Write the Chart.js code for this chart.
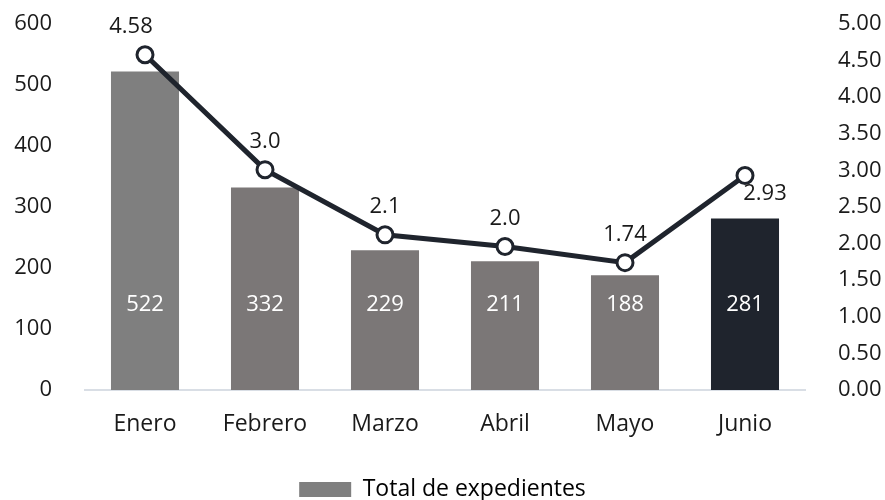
<!DOCTYPE html>
<html>
<head>
<meta charset="utf-8">
<script src="https://cdn.jsdelivr.net/npm/chart.js@4"></script>
<style>
  html, body { margin: 0; padding: 0; background: #fff; }
  #wrap { width: 885px; height: 500px; }
</style>
</head>
<body>
<div id="wrap"><canvas id="chart"></canvas></div>
<script>
// datos del gráfico
const meses = ['Enero', 'Febrero', 'Marzo', 'Abril', 'Mayo', 'Junio'];
const totalExpedientes = [522, 332, 229, 211, 188, 281];
const promedio = [4.58, 3.01, 2.12, 1.96, 1.74, 2.93];
const promedioEtiquetas = ['4.58', '3.0', '2.1', '2.0', '1.74', '2.93'];
const ticksIzq = [0, 100, 200, 300, 400, 500, 600];
const ticksDer = ['0.00', '0.50', '1.00', '1.50', '2.00', '2.50', '3.00', '3.50', '4.00', '4.50', '5.00'];

const fuente = "'Open Sans', Lato, sans-serif";
const colorTexto = '#1a1a1a';
const coloresBarras = ['#7f7f7f', '#7b7777', '#7b7777', '#7b7777', '#7b7777', '#1f242d'];

// etiquetas de valores (barras en blanco, línea encima de cada punto)
const etiquetas = {
    id: 'etiquetas',
    afterDatasetsDraw(chart) {
        const ctx = chart.ctx;
        ctx.save();
        ctx.font = '22px ' + fuente;
        ctx.textAlign = 'center';
        ctx.textBaseline = 'middle';

        const barras = chart.getDatasetMeta(0);
        barras.data.forEach(function (bar, i) {
            ctx.fillStyle = '#ffffff';
            ctx.fillText(String(totalExpedientes[i]), bar.x, bar.base - 85);
        });

        const linea = chart.getDatasetMeta(1);
        linea.data.forEach(function (pt, i) {
            ctx.fillStyle = colorTexto;
            if (i === linea.data.length - 1) {
                ctx.fillText(promedioEtiquetas[i], pt.x + 20, pt.y + 18);
            } else {
                ctx.fillText(promedioEtiquetas[i], pt.x - (i === 0 ? 14 : 0), pt.y - 28);
            }
        });
        ctx.restore();
    }
};

// bajar un poco la leyenda
const bajarLeyenda = {
    id: 'bajarLeyenda',
    afterLayout(chart) {
        if (chart.legend) {
            chart.legend.top += 11;
            chart.legend.bottom += 11;
        }
    }
};

const ctx = document.getElementById('chart').getContext('2d');
new Chart(ctx, {
    type: 'bar',
    data: {
        labels: meses,
        datasets: [{
            type: 'bar',
            label: 'Total de expedientes',
            data: totalExpedientes,
            backgroundColor: coloresBarras,
            yAxisID: 'y',
            barPercentage: 0.567,
            categoryPercentage: 1,
            order: 1
        }, {
            type: 'line',
            label: 'Promedio',
            data: promedio,
            borderColor: '#1f242d',
            borderWidth: 5,
            pointRadius: 8,
            pointBorderWidth: 3,
            pointBackgroundColor: '#ffffff',
            pointBorderColor: '#1f242d',
            yAxisID: 'y1',
            order: 0
        }]
    },
    options: {
        responsive: true,
        maintainAspectRatio: false,
        animation: false,
        layout: { padding: { top: 24, bottom: 0 } },
        scales: {
            x: {
                grid: { display: false },
                border: { color: '#d9dee5', width: 2 },
                ticks: { color: colorTexto, font: { family: fuente, size: 23 }, padding: 13 },
                afterFit: function (axis) { axis.height = 73; }
            },
            y: {
                position: 'left',
                min: 0,
                max: 600,
                afterBuildTicks: function (axis) { axis.ticks = ticksIzq.map(v => ({ value: v })); },
                grid: { display: false },
                border: { display: false },
                ticks: { color: colorTexto, font: { family: fuente, size: 22 }, padding: 25 },
                afterFit: function (axis) { axis.width = 85; axis.paddingTop = 0; axis.paddingBottom = 0; }
            },
            y1: {
                position: 'right',
                min: 0,
                max: 5,
                afterBuildTicks: function (axis) { axis.ticks = ticksDer.map(v => ({ value: parseFloat(v) })); },
                grid: { display: false },
                border: { display: false },
                ticks: {
                    color: colorTexto,
                    font: { family: fuente, size: 22 },
                    padding: 25,
                    callback: function (v) { return Number(v).toFixed(2); }
                },
                afterFit: function (axis) { axis.width = 80; axis.paddingTop = 0; axis.paddingBottom = 0; }
            }
        },
        plugins: {
            legend: {
                position: 'bottom',
                labels: {
                    color: colorTexto,
                    font: { family: fuente, size: 23 },
                    boxWidth: 52,
                    boxHeight: 15,
                    padding: 4,
                    generateLabels: function (chart) {
                        return [{
                            text: 'Total de expedientes',
                            fillStyle: '#7f7f7f',
                            strokeStyle: '#7f7f7f',
                            lineWidth: 0,
                            datasetIndex: 0
                        }];
                    }
                }
            },
            tooltip: { enabled: false }
        }
    },
    plugins: [etiquetas, bajarLeyenda]
});
</script>
</body>
</html>
